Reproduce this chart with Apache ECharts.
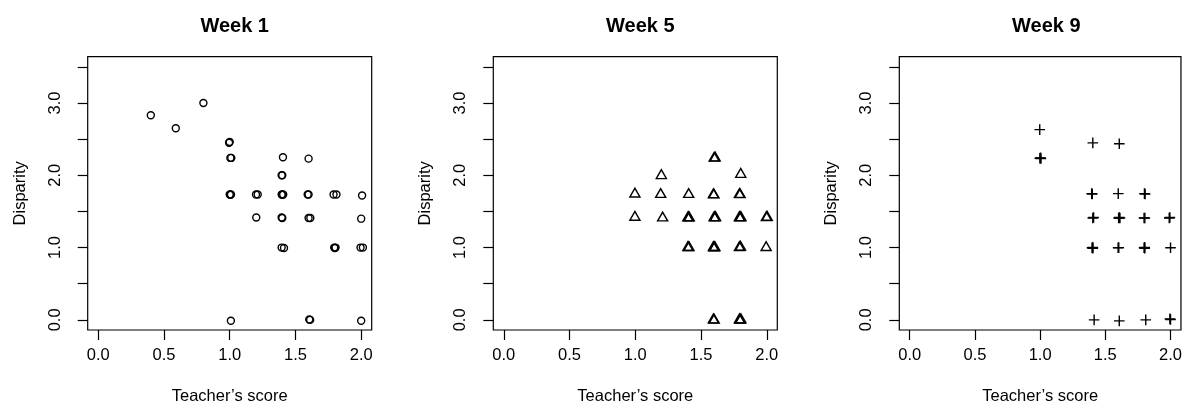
<!DOCTYPE html>
<html>
<head>
<meta charset="utf-8">
<script src="https://cdn.jsdelivr.net/npm/echarts@6/dist/echarts.min.js"></script>
<style>
  html, body { margin: 0; padding: 0; background: #fff; }
  #chart { width: 1185px; height: 410px; }
</style>
</head>
<body>
<div id="chart"></div>
<script>
// ---- Data ----
const panelTitles = ['Week 1', 'Week 5', 'Week 9'];
const xTicks = [0, 0.5, 1, 1.5, 2];
const yTicks = [0, 0.5, 1, 1.5, 2, 2.5, 3, 3.5];
const yLabels = [0, 1, 2, 3];
const xName = 'Teacher\u2019s score';
const yName = 'Disparity';

// Week 1 (open circles): [teacher's score, disparity]
const week1 = [
  [0.40, 2.83], [0.59, 2.65], [0.80, 3.00],
  [0.995, 2.45], [1.0, 2.46],
  [1.005, 2.24], [1.012, 2.24],
  [1.405, 2.25], [1.60, 2.23],
  [1.395, 2.00], [1.40, 2.00],
  [1.0, 1.735], [1.005, 1.73], [1.01, 1.735],
  [1.20, 1.735], [1.213, 1.735],
  [1.395, 1.735], [1.40, 1.73], [1.407, 1.735],
  [1.593, 1.735], [1.60, 1.735],
  [1.79, 1.735], [1.812, 1.735],
  [2.007, 1.72],
  [1.202, 1.415],
  [1.395, 1.415], [1.40, 1.41],
  [1.60, 1.41], [1.613, 1.41],
  [2.0, 1.40],
  [1.395, 1.0], [1.413, 0.995],
  [1.795, 1.0], [1.80, 0.995], [1.805, 1.0],
  [1.995, 1.0], [2.013, 1.0],
  [1.009, -0.013],
  [1.605, 0.005], [1.612, 0.0],
  [2.0, -0.013]
];

// Week 5 (open triangles)
const week5 = [
  [0.997, 1.74], [0.997, 1.418],
  [1.198, 1.995], [1.193, 1.735], [1.208, 1.41],
  [1.406, 1.735],
  [1.40, 1.41], [1.405, 1.414], [1.41, 1.41],
  [1.40, 1.0], [1.408, 1.0],
  [1.60, 2.236], [1.607, 2.24],
  [1.594, 1.73], [1.598, 1.728],
  [1.60, 1.414], [1.605, 1.41], [1.61, 1.414],
  [1.594, 1.0], [1.60, 0.995], [1.605, 1.0],
  [1.594, 0.0], [1.60, -0.005],
  [1.802, 2.012],
  [1.792, 1.735], [1.797, 1.73],
  [1.792, 1.414], [1.797, 1.41], [1.803, 1.414],
  [1.792, 1.0], [1.80, 1.005],
  [1.792, 0.0], [1.797, -0.005], [1.803, 0.0],
  [1.997, 1.414], [2.003, 1.418],
  [1.995, 1.0]
];

// Week 9 (plus signs)
const week9 = [
  [0.997, 2.632],
  [0.998, 2.236], [1.003, 2.24], [1.006, 2.232],
  [1.404, 2.448], [1.607, 2.435],
  [1.395, 1.746], [1.40, 1.74],
  [1.599, 1.746],
  [1.80, 1.746], [1.805, 1.74],
  [1.404, 1.41], [1.41, 1.415],
  [1.602, 1.41], [1.607, 1.415], [1.612, 1.41],
  [1.797, 1.41], [1.803, 1.41],
  [1.99, 1.41], [1.995, 1.415],
  [1.398, 0.997], [1.404, 1.003], [1.404, 0.99],
  [1.598, 0.997], [1.603, 1.0],
  [1.797, 0.997], [1.802, 1.003], [1.802, 0.99],
  [2.0, 0.997],
  [1.414, 0.0], [1.607, -0.014], [1.81, 0.0],
  [1.995, 0.014], [2.0, 0.006]
];

const panelData = [week1, week5, week9];

// ---- Layout ----
const FONT = '"Liberation Sans", Arial, sans-serif';
const gridLefts = [87.7, 493.3, 899.3];
const gridTop = 56.7, gridW = 284, gridH = 275;

const symbols = [
  { symbol: 'circle', size: 7, offset: [0, 0] },
  { symbol: 'path://M0,0L10,0L5,-8.66Z', size: [10.1, 8.75], offset: [0, -1.46] },
  { symbol: 'path://M0,5L10,5M5,0L5,10', size: 10.6, offset: [0, 0] }
];

const grids = [], xAxes = [], yAxes = [], series = [], titles = [];
for (let i = 0; i < 3; i++) {
  grids.push({
    left: gridLefts[i], top: gridTop, width: gridW, height: gridH,
    show: true, borderColor: '#000', borderWidth: 1.2, backgroundColor: 'transparent',
    containLabel: false
  });
  xAxes.push({
    type: 'value', gridIndex: i, min: -0.08, max: 2.08, position: 'bottom',
    splitLine: { show: false },
    axisLine: { show: false, onZero: false },
    axisTick: { show: true, inside: false, customValues: xTicks, length: 10, lineStyle: { color: '#000', width: 1.2 } },
    axisLabel: {
      customValues: xTicks, margin: 17, color: '#000', fontSize: 16.5, fontFamily: FONT,
      formatter: v => Number(v).toFixed(1)
    },
    name: xName, nameLocation: 'middle', nameGap: 58,
    nameTextStyle: { color: '#000', fontSize: 16.5, fontFamily: FONT }
  });
  yAxes.push({
    type: 'value', gridIndex: i, min: -0.14, max: 3.64, position: 'left',
    splitLine: { show: false },
    axisLine: { show: false, onZero: false },
    axisTick: { show: true, inside: false, customValues: yTicks, length: 10, lineStyle: { color: '#000', width: 1.2 } },
    axisLabel: {
      customValues: yLabels, margin: 24, rotate: 90, color: '#000', fontSize: 16.5, fontFamily: FONT,
      formatter: v => Number(v).toFixed(1)
    },
    name: yName, nameLocation: 'middle', nameGap: 59,
    nameTextStyle: { color: '#000', fontSize: 16.5, fontFamily: FONT }
  });
  series.push({
    type: 'scatter', xAxisIndex: i, yAxisIndex: i,
    data: panelData[i],
    symbol: symbols[i].symbol,
    symbolSize: symbols[i].size,
    symbolOffset: symbols[i].offset,
    itemStyle: { color: 'rgba(0,0,0,0)', borderColor: '#000', borderWidth: 1.4, opacity: 1 },
    emphasis: { disabled: true },
    silent: true,
    animation: false
  });
  titles.push({
    text: panelTitles[i],
    left: gridLefts[i] + gridW / 2, top: 11, textAlign: 'center',
    textStyle: { color: '#000', fontSize: 20, fontWeight: 'bold', fontFamily: FONT }
  });
}

const chart = echarts.init(document.getElementById('chart'), null, { renderer: 'canvas' });
chart.setOption({
  backgroundColor: '#fff',
  animation: false,
  title: titles,
  grid: grids,
  xAxis: xAxes,
  yAxis: yAxes,
  series: series
});
</script>
</body>
</html>
